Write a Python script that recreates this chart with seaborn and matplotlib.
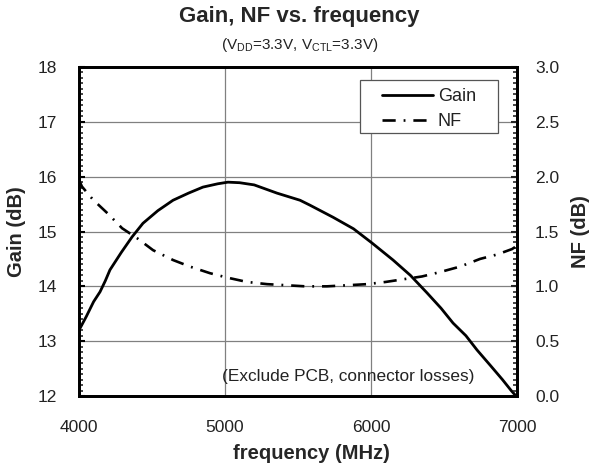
import matplotlib
matplotlib.use("Agg")
import matplotlib.pyplot as plt
import seaborn as sns
import pandas as pd
from matplotlib.ticker import MultipleLocator
from matplotlib.lines import Line2D
from matplotlib.patches import Rectangle

freq_gain = [4000, 4050, 4100, 4144, 4180, 4212, 4290, 4363, 4438, 4540, 4644, 4750, 4849, 4950, 5020, 5100, 5200, 5356, 5514, 5582, 5740, 5880, 6007, 6151, 6270, 6384, 6480, 6562, 6650, 6726, 6820, 6900, 6960, 7000]
gain_db = [13.2, 13.45, 13.72, 13.9, 14.1, 14.3, 14.62, 14.9, 15.15, 15.38, 15.57, 15.7, 15.81, 15.87, 15.9, 15.89, 15.85, 15.7, 15.57, 15.48, 15.26, 15.05, 14.79, 14.48, 14.2, 13.88, 13.6, 13.33, 13.1, 12.84, 12.55, 12.3, 12.1, 11.98]

freq_nf = [4000, 4020, 4096, 4200, 4295, 4397, 4507, 4644, 4760, 4897, 5014, 5151, 5288, 5420, 5550, 5698, 5840, 5973, 6100, 6199, 6349, 6473, 6610, 6747, 6863, 6966, 7000]
nf_db = [1.97, 1.91, 1.79, 1.66, 1.53, 1.44, 1.33, 1.24, 1.18, 1.12, 1.08, 1.04, 1.02, 1.01, 1.0, 1.0, 1.01, 1.02, 1.04, 1.06, 1.09, 1.13, 1.18, 1.25, 1.29, 1.34, 1.37]

x_ticks = [4000, 5000, 6000, 7000]
gain_ticks = [12, 13, 14, 15, 16, 17, 18]
nf_ticks = [0.0, 0.5, 1.0, 1.5, 2.0, 2.5, 3.0]

sns.set_style("white")
plt.rcParams["font.family"] = ["Liberation Sans", "DejaVu Sans"]
plt.rcParams["mathtext.fontset"] = "custom"
plt.rcParams["mathtext.rm"] = "Liberation Sans"

df_g = pd.DataFrame({"f": freq_gain, "g": gain_db})
df_n = pd.DataFrame({"f": freq_nf, "n": nf_db})

fig = plt.figure(figsize=(5.99, 4.66), dpi=100)
ax = fig.add_axes([0.1319, 0.1502, 0.7312, 0.706])
ax2 = ax.twinx()

nf_dash = (0, (5, 3, 0.7, 3))
sns.lineplot(data=df_g, x="f", y="g", ax=ax, color="black", lw=2.0)
sns.lineplot(data=df_n, x="f", y="n", ax=ax2, color="black", lw=1.9, linestyle=nf_dash)

ax.set_xlim(4000, 7000)
ax.set_ylim(12, 18)
ax2.set_ylim(0, 3)
ax.set_xticks(x_ticks)
ax.set_yticks(gain_ticks)
ax2.set_yticks(nf_ticks)
ax2.set_yticklabels([f"{v:.1f}" for v in nf_ticks])
ax.xaxis.set_minor_locator(MultipleLocator(200))
ax.yaxis.set_minor_locator(MultipleLocator(0.1))
ax2.yaxis.set_minor_locator(MultipleLocator(0.05))

ax.grid(True, which="major", color="#808080", lw=0.9)
ax.set_axisbelow(True)

for a in (ax, ax2):
    for s in a.spines.values():
        s.set_linewidth(2.0)
        s.set_color("black")
tick_fs = 12.5
ax.tick_params(axis="both", which="major", direction="in", length=4, width=1.5, labelsize=tick_fs, colors="black")
ax.tick_params(axis="x", which="major", pad=17)
ax.tick_params(axis="y", which="major", pad=16)
ax.tick_params(axis="both", which="minor", direction="in", length=3, width=1.2)
ax.tick_params(axis="x", which="both", top=False)
ax2.tick_params(axis="y", which="major", direction="in", length=4, width=1.5, labelsize=tick_fs, pad=13)
ax2.tick_params(axis="y", which="minor", direction="in", length=3, width=1.2)
for lab in ax.get_xticklabels() + ax.get_yticklabels() + ax2.get_yticklabels():
    lab.set_color("#222222")

ax.set_xlabel("frequency (MHz)", fontsize=14.5, fontweight="bold", labelpad=1)
ax.xaxis.set_label_coords(0.53, -0.145)
ax.set_ylabel("Gain (dB)", fontsize=14.5, fontweight="bold", labelpad=8)
ax2.set_ylabel("NF (dB)", fontsize=14.5, fontweight="bold", labelpad=8)

fig.text(0.5, 0.965, "Gain, NF vs. frequency", ha="center", va="center", fontsize=16, fontweight="bold")
fig.text(0.5, 0.903, r"(V$_{\mathrm{DD}}$=3.3V, V$_{\mathrm{CTL}}$=3.3V)", ha="center", va="center", fontsize=11, color="#222222")

ax.text((222 - 79) / 438, 0.058, "(Exclude PCB, connector losses)", transform=ax.transAxes, ha="left", va="center", fontsize=12.4, color="#222222")

# legend frame
ax2.add_patch(Rectangle((0.6416, 0.7994), 0.315, 0.1611, transform=ax2.transAxes, facecolor="white",
                        edgecolor="#555555", lw=0.9, zorder=4))
handles = [Line2D([], [], color="black", lw=2.0),
           Line2D([], [], color="black", lw=1.9, linestyle=nf_dash)]
leg = ax2.legend(handles, ["Gain", "NF"], loc="upper left", bbox_to_anchor=((382 - 79) / 438, (396 - 88) / 329),
                 frameon=False, fontsize=13, handlelength=2.8, handletextpad=0.3,
                 borderpad=0, labelspacing=0.45, borderaxespad=0)
leg.set_zorder(5)
for t in leg.get_texts():
    t.set_color("#222222")
if ax.get_legend():
    ax.get_legend().remove()

fig.savefig("out.png", dpi=100)
